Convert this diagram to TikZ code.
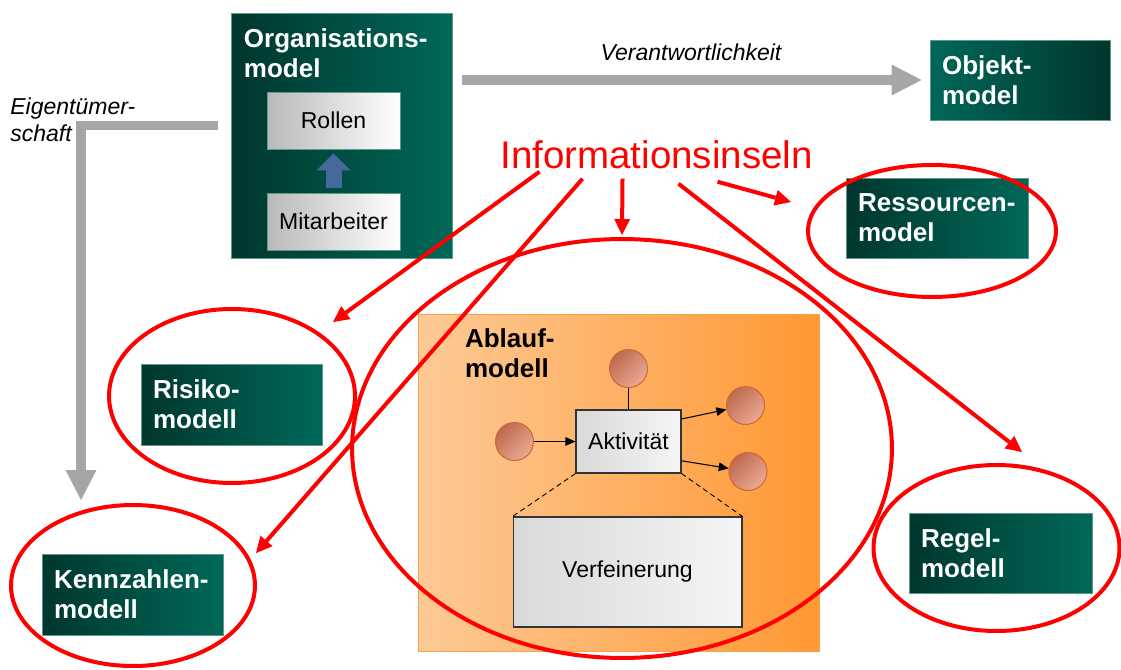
\documentclass[tikz,border=0pt]{standalone}
\usepackage{fontspec}
\setmainfont{Liberation Sans}
\usepackage{tikz}
\usetikzlibrary{shapes.geometric,arrows.meta,positioning}

\definecolor{gruendunkel}{HTML}{00362E}
\definecolor{gruenhell}{HTML}{006858}
\definecolor{gruenrand}{HTML}{5E978C}
\definecolor{orangehell}{HTML}{FDCA96}
\definecolor{orangedunkel}{HTML}{FF9833}
\definecolor{orangerand}{HTML}{F4A24E}
\definecolor{kugeldunkel}{HTML}{BE6A50}
\definecolor{kugelhell}{HTML}{EBAA92}
\definecolor{kugelrand}{HTML}{CC6A34}
\definecolor{pfeilgrau}{HTML}{A6A6A6}
\definecolor{pfeilblau}{HTML}{46699C}

\newcommand\fettschrift{\fontsize{14.8}{17.1}\selectfont\bfseries}
\newcommand\textschrift{\fontsize{13.1}{15.9}\selectfont}
\newcommand\kursivschrift{\fontsize{13.1}{15.9}\selectfont\itshape}
\newcommand\rotschrift{\fontsize{21.9}{26}\selectfont}

\begin{document}
\begin{tikzpicture}[x = 0.02cm, y = -0.02cm,
  gruen/.style = {shape = rectangle, left color = gruendunkel, right color = gruenhell, draw = gruenrand, line width = 0.5pt, inner xsep = 0.24cm, inner ysep = 0pt, align = left, text = white, font = \fettschrift},
  gruen rev/.style = {gruen, left color = gruenhell, right color = gruendunkel},
  titel/.style = {anchor = north west, inner sep = 0pt, align = left, font = \fettschrift},
  grau/.style = {shape = rectangle, left color = gray!55, right color = white, draw = gruenrand, line width = 0.5pt, font = \textschrift},
  hellgrau/.style = {shape = rectangle, left color = gray!30, right color = gray!8, draw = black!80, line width = 0.6pt, font = \textschrift},
  kugel/.style = {shape = circle, minimum size = 0.76cm, inner sep = 0pt, left color = kugeldunkel, right color = kugelhell, shading angle = 45, draw = kugelrand, line width = 0.6pt},
  grauer pfeil/.style = {draw = pfeilgrau, line width = 0.19cm, -{Triangle[length = 0.6cm, width = 0.62cm, line width = 0pt]}},
  blauer pfeil/.style = {draw = pfeilblau, line width = 0.32cm, -{Triangle[length = 0.34cm, width = 0.68cm, line width = 0pt]}},
  schwarzer pfeil/.style = {draw = black, line width = 0.6pt, -{Triangle[length = 0.2cm, width = 0.17cm]}},
  roter pfeil/.style = {draw = red, line width = 0.08cm, -{Triangle[length = 0.32cm, width = 0.32cm, line width = 0pt]}},
  rote ellipse/.style = {shape = ellipse, draw = red, line width = 0.08cm, inner sep = 0pt}]

\useasboundingbox (0,0) rectangle (1121,669);

\node[gruen, minimum width = 4.42cm, minimum height = 4.9cm] (1) at (341.5,135.5) {};
\node[titel, text = white] (2) at ([shift = {(13,16)}]1.north west) {Organisations-\\model};
\node[grau, minimum width = 2.66cm, minimum height = 1.14cm] (3) at (333.5,120.5) {Rollen};
\node[grau, minimum width = 2.66cm, minimum height = 1.14cm] (4) at (333.5,221.5) {Mitarbeiter};
\draw[blauer pfeil, shorten < = 0.1cm, shorten > = 0.08cm] (4) -- (3);

\node[gruen rev, text width = 3.12cm, minimum width = 3.6cm, minimum height = 1.6cm] (5) at (1020,80) {Objekt-\\model};
\node[gruen, text width = 3.16cm, minimum width = 3.64cm, minimum height = 1.6cm] (6) at (937,218) {Ressourcen-\\model};
\node[gruen, text width = 3.14cm, minimum width = 3.62cm, minimum height = 1.62cm] (7) at (231.5,404.5) {Risiko-\\modell};
\node[gruen, text width = 3.14cm, minimum width = 3.62cm, minimum height = 1.62cm] (8) at (132.5,594.5) {Kennzahlen-\\modell};
\node[gruen, text width = 3.18cm, minimum width = 3.66cm, minimum height = 1.6cm] (9) at (1000.5,553) {Regel-\\modell};

\node[shape = rectangle, left color = orangehell, right color = orangedunkel, draw = orangerand, minimum width = 8.02cm, minimum height = 6.74cm] (10) at (618.5,482.5) {};
\node[titel] (11) at ([shift = {(47,15)}]10.north west) {Ablauf-\\modell};
\node[hellgrau, minimum width = 2.1cm, minimum height = 1.26cm] (12) at (628.5,441.5) {Aktivität};
\node[hellgrau, minimum width = 4.58cm, minimum height = 2.2cm] (13) at (627.5,572) {Verfeinerung};
\node[kugel] (14) at (628.5,368.5) {};
\node[kugel] (15) at (514.5,441.5) {};
\node[kugel] (16) at (745.5,405.5) {};
\node[kugel] (17) at (748,471.5) {};
\draw[line width = 0.6pt] (14) -- (12);
\draw[schwarzer pfeil] (15) -- (12);
\draw[schwarzer pfeil] (12.23) -- (16);
\draw[schwarzer pfeil] (12.-20) -- (17);
\draw[densely dashed, line width = 0.5pt] (12.south west) -- (13.north west) (12.south east) -- (13.north east);

\coordinate (e1) at (81,500);
\draw[grauer pfeil, shorten < = 0.2cm, shorten > = 0.16cm] (1.east |- 5.west) -- node[above = 0.3cm, inner sep = 0pt, font = \kursivschrift] (18) {Verantwortlichkeit} (5.west);
\draw[grauer pfeil] ([shift = {(-13,-10)}]1.west) -| (e1);
\node[anchor = north west, inner sep = 0pt, align = left, font = \kursivschrift] (19) at (10,97) {Eigentümer-\\schaft};

\begin{scope}[red]
\node[rote ellipse, minimum width = 4.96cm, minimum height = 2.64cm] (21) at (932,231) {};
\node[rote ellipse, minimum width = 10.8cm, minimum height = 8.38cm] (22) at (622,448.5) {};
\node[rote ellipse, minimum width = 4.92cm, minimum height = 3.48cm] (23) at (232,396) {};
\node[rote ellipse, minimum width = 4.88cm, minimum height = 3.22cm] (24) at (133,585.5) {};
\node[rote ellipse, minimum width = 4.92cm, minimum height = 3.32cm] (25) at (996.5,548) {};
\node[anchor = base, inner sep = 0pt, text = red, font = \rotschrift] (20) at (656.5,168) {Informationsinseln};
\coordinate (p1) at (333,322);
\coordinate (p2) at (256,553);
\coordinate (p3) at (622,235);
\coordinate (p4) at (1022,452);
\coordinate (p5) at (791,202);
\draw[roter pfeil] ([shift = {(-117,3)}]20.south) -- (p1);
\draw[roter pfeil] ([shift = {(-74,10)}]20.south) -- (p2);
\draw[roter pfeil] ([shift = {(-34,10)}]20.south) -- (p3);
\draw[roter pfeil] ([shift = {(22,15)}]20.south) -- (p4);
\draw[roter pfeil] ([shift = {(61,13)}]20.south) -- (p5);
\end{scope}
\end{tikzpicture}
\end{document}
